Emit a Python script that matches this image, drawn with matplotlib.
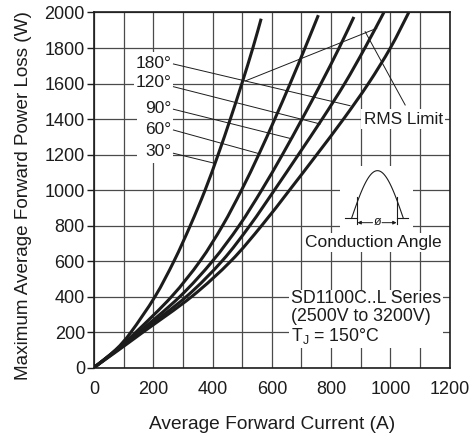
import numpy as np
import matplotlib
matplotlib.use('Agg')
import matplotlib.pyplot as plt
from matplotlib.patches import Rectangle, PathPatch
from matplotlib.path import Path

plt.rcParams['font.family'] = ['Liberation Sans', 'DejaVu Sans']
plt.rcParams['mathtext.fontset'] = 'custom'
plt.rcParams['mathtext.rm'] = 'Liberation Sans'
plt.rcParams['mathtext.it'] = 'Liberation Sans:italic'

# --- data ---
# power loss levels (W) where the current of each curve was read
loss_levels = [0, 100, 200, 400, 600, 800, 1000, 1200, 1400, 1600, 1800]
angles = ['30°', '60°', '90°', '120°', '180°']
current_30 = [0, 73, 125, 206, 270, 325, 375, 419, 460, 499, 536]
current_60 = [0, 75, 142, 262, 358, 434, 498, 556, 610, 662, 712]
current_90 = [0, 78, 152, 290, 400, 490, 566, 636, 702, 766, 827]
current_120 = [0, 80, 158, 312, 432, 526, 609, 690, 770, 846, 914]
current_180 = [0, 84, 166, 330, 462, 566, 660, 752, 842, 926, 1000]
# where each curve stops (RMS limit)
end_current = [564, 757, 877, 978, 1062]
end_loss = [1965, 1985, 1975, 2000, 2000]

# angle labels and their leader lines
label_y = [1216, 1342, 1460, 1604, 1714]
leader_start_y = [1207, 1338, 1455, 1582, 1710]
leader_end_x = [408, 552, 661, 763, 864]
leader_end_y = [1150, 1207, 1291, 1372, 1475]

# RMS limit pointer lines
rms_a_x, rms_a_y = [510, 954], [1614, 1911]
rms_b_x, rms_b_y = [915, 1050], [1892, 1479]

curves = [current_30, current_60, current_90, current_120, current_180]

ink = '#1c1c1c'
grid_c = '#4a4a4a'


def smooth_path(xs, ys):
    # Catmull-Rom through the read points, drawn as cubic bezier segments
    pts = np.column_stack([xs, ys]).astype(float)
    n = len(pts)
    verts = [pts[0]]
    codes = [Path.MOVETO]
    for i in range(n - 1):
        p0 = pts[i - 1] if i > 0 else pts[i]
        p1, p2 = pts[i], pts[i + 1]
        p3 = pts[i + 2] if i + 2 < n else pts[i + 1]
        verts += [p1 + (p2 - p0) / 6, p2 - (p3 - p1) / 6, p2]
        codes += [Path.CURVE4] * 3
    return Path(verts, codes)


fig = plt.figure(figsize=(4.77, 4.37), dpi=100)
ax = fig.add_axes([0.1971, 0.159, 0.7455, 0.8124])
ax.set_xlim(0, 1200)
ax.set_ylim(0, 2000)
ax.set_xticks(np.arange(0, 1201, 200))
ax.set_xticks(np.arange(0, 1201, 100), minor=True)
ax.set_yticks(np.arange(0, 2001, 200))
ax.set_axisbelow(True)
ax.grid(which='both', color=grid_c, lw=0.9)
ax.tick_params(axis='x', which='both', length=0, pad=9.5, labelsize=13, colors=ink)
ax.tick_params(axis='y', length=5, width=1, pad=1.5, labelsize=13, colors=ink)
for s in ax.spines.values():
    s.set_color(ink)
    s.set_linewidth(1.2)

# power loss curves
for cur, ex, ey in zip(curves, end_current, end_loss):
    ax.add_patch(PathPatch(smooth_path(cur + [ex], loss_levels + [ey]),
                           fill=False, ec=ink, lw=2.2, capstyle='butt',
                           zorder=3))

# angle labels with leaders
ax.add_patch(Rectangle((145, 1150), 122, 630, fc='white', ec='none', zorder=1))
for name, ly, sy, lx2, ly2 in zip(angles, label_y, leader_start_y,
                                   leader_end_x, leader_end_y):
    ax.text(262, ly, name, ha='right', va='center', fontsize=12.5, color=ink,
            bbox=dict(boxstyle='square,pad=0.08', fc='white', ec='none'),
            zorder=2)
    ax.plot([268, lx2], [sy, ly2], color=ink, lw=0.7, zorder=2.5)

# RMS limit
ax.plot(rms_a_x, rms_a_y, color=ink, lw=0.7, zorder=2.5)
ax.plot(rms_b_x, rms_b_y, color=ink, lw=0.7, zorder=2.5)
ax.text(1043, 1400, 'RMS Limit', ha='center', va='center', fontsize=12.3,
        color=ink, bbox=dict(boxstyle='square,pad=0.12', fc='white', ec='none'),
        zorder=2)

# conduction angle sketch
ax.add_patch(Rectangle((830, 760), 246, 377, fc='white', ec='none', zorder=1))
hx = np.linspace(869, 1044, 60)
ax.plot(hx, 840 + 269 * np.sin(np.pi * (hx - 869) / 175), color=ink, lw=0.8)
ax.plot([847, 889], [840, 840], color=ink, lw=0.8)
ax.plot([1021, 1061], [840, 840], color=ink, lw=0.8)
ax.plot([889, 889], [808, 962], color=ink, lw=0.8)
ax.plot([1021, 1021], [808, 962], color=ink, lw=0.8)
ax.annotate('', xy=(889, 816), xytext=(940, 816),
            arrowprops=dict(arrowstyle='-|>', color=ink, lw=0.7,
                            mutation_scale=5, shrinkA=0, shrinkB=0))
ax.annotate('', xy=(1021, 816), xytext=(972, 816),
            arrowprops=dict(arrowstyle='-|>', color=ink, lw=0.7,
                            mutation_scale=5, shrinkA=0, shrinkB=0))
ax.text(956, 818, 'ø', ha='center', va='center', fontsize=9, color=ink)
ax.text(943, 703, 'Conduction Angle', ha='center', va='center',
        fontsize=12.5, color=ink,
        bbox=dict(boxstyle='square,pad=0.1', fc='white', ec='none'), zorder=2)

# device text block
ax.text(665, 278, 'SD1100C..L Series\n(2500V to 3200V)\nT$_\\mathrm{J}$ = 150°C',
        ha='left', va='center', fontsize=12.8, color=ink, linespacing=1.05,
        bbox=dict(boxstyle='square,pad=0.1', fc='white', ec='none'), zorder=2)

fig.text(0.571, 0.0275, 'Average Forward Current (A)', ha='center',
         va='center', fontsize=13.8, color=ink)
fig.text(0.0503, 0.5526, 'Maximum Average Forward Power Loss (W)',
         rotation=90, ha='center', va='center', fontsize=13.6, color=ink)

fig.savefig('out.png', dpi=100)
